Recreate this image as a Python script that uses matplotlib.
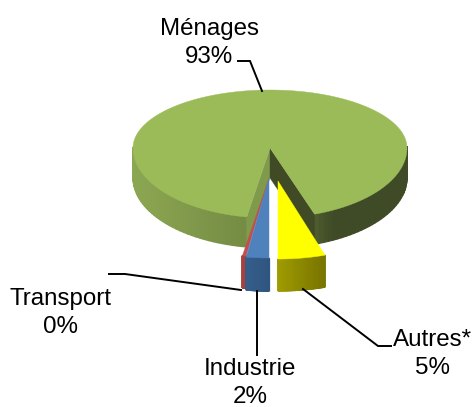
import numpy as np
import matplotlib
matplotlib.use("Agg")
import matplotlib.pyplot as plt
from matplotlib.patches import Polygon

plt.rcParams["font.family"] = ["Liberation Sans", "DejaVu Sans"]

# values (labels are rounded)
categories = ["Ménages", "Autres*", "Industrie", "Transport"]
shares = [92.2, 5.0, 2.4, 0.4]
labels = ["93%", "5%", "2%", "0%"]

# slice widths in radians
DEG = np.array(shares) / sum(shares) * 2 * np.pi
a_autres = DEG[1]
a_indus = DEG[2]
a_trans = DEG[3]

fig = plt.figure(figsize=(4.72, 4.07), dpi=100)
ax = fig.add_axes([0, 0, 1, 1])
ax.set_xlim(0, 472)
ax.set_ylim(407, 0)
ax.axis("off")


def pt(c, t, rx, ry_front, ry_back):
    # t = 0 is the front of the pie, positive t goes right
    s, k = np.sin(t), np.cos(t)
    ry = np.where(k >= 0, ry_front, ry_back)
    return c[0] + rx * s, c[1] + ry * k


def mix(c1, c2, f):
    return tuple(np.array(matplotlib.colors.to_rgb(c1)) * (1 - f) + np.array(matplotlib.colors.to_rgb(c2)) * f)


def wall(c, t0, t1, rx, ryf, ryb, depth, colfn, z):
    # outer wall drawn as thin quads so it can shade across
    ts = np.linspace(t0, t1, 160)
    x, y = pt(c, ts, rx, ryf, ryb)
    for i in range(len(ts) - 1):
        if np.cos((ts[i] + ts[i + 1]) / 2) < -0.02:
            continue
        q = [(x[i], y[i]), (x[i + 1], y[i + 1]), (x[i + 1], y[i + 1] + depth), (x[i], y[i] + depth)]
        col = colfn((x[i] - c[0]) / rx)
        ax.add_patch(Polygon(q, closed=True, fc=col, ec=col, lw=0.9, zorder=z))


def top(c, t0, t1, rx, ryf, ryb, col, z):
    ts = np.linspace(t0, t1, 240)
    x, y = pt(c, ts, rx, ryf, ryb)
    ax.add_patch(Polygon([c] + list(zip(x, y)), closed=True, fc=col, ec=col, lw=0.3, zorder=z))


# big slice
c0 = (270, 148)
rx0, ryf0, ryb0, d0 = 137, 70, 58, 30
t_right = a_autres + np.radians(1)
t_left = 2 * np.pi - a_indus - a_trans + np.radians(0.3)


def green_wall(u):
    if u < 0:
        return mix("#6f8540", "#8ca752", min(-u, 1))
    return mix("#6f8540", "#3f4a26", min(u * 2.2, 1))


wall(c0, t_right, t_left, rx0, ryf0, ryb0, d0, green_wall, 1)
xl, yl = pt(c0, t_left, rx0, ryf0, ryb0)
xr, yr = pt(c0, t_right, rx0, ryf0, ryb0)
ax.add_patch(Polygon([c0, (xl, yl), (xl, yl + d0), (c0[0], c0[1] + d0)], closed=True, fc="#7f9a4a", ec="#7f9a4a", lw=0.3, zorder=2))
ax.add_patch(Polygon([c0, (xr, yr), (xr, yr + d0), (c0[0], c0[1] + d0)], closed=True, fc="#404b25", ec="#404b25", lw=0.3, zorder=2))
top(c0, t_right, t_left, rx0, ryf0, ryb0, "#9bbb59", 3)

# exploded slices
c_y = (278, 181)
wall(c_y, 0, a_autres, 152, 78, 78, 32, lambda u: mix("#a09c00", "#787400", min(u * 3.2, 1)), 4)
top(c_y, 0, a_autres, 152, 78, 78, "#ffff00", 5)

c_r = (269, 178)
wall(c_r, -a_indus - a_trans, -a_indus, 152, 79, 79, 32, lambda u: "#a8403e", 4)
top(c_r, -a_indus - a_trans, -a_indus, 152, 79, 79, "#c0504d", 5)

c_b = (269, 178)
wall(c_b, -a_indus, 0, 152, 80, 80, 33, lambda u: mix("#2f5680", "#375f8c", min(-u * 6, 1)), 6)
top(c_b, -a_indus, 0, 152, 80, 80, "#4f81bd", 7)

# leader lines
ax.plot([238, 250, 262], [61, 61, 91], color="black", lw=1.4, zorder=8, solid_joinstyle="miter")
ax.plot([303, 378, 391], [289, 346, 346], color="black", lw=1.4, zorder=8, solid_joinstyle="miter")
ax.plot([257, 257], [291, 355], color="black", lw=1.4, zorder=8)
ax.plot([109, 125, 241], [274, 274, 290], color="black", lw=1.4, zorder=8, solid_joinstyle="miter")

# text
fs = 17.4
pos = {"Ménages": (209, 43), "Autres*": (433, 354), "Industrie": (250, 383), "Transport": (60, 313)}
for name, lab in zip(categories, labels):
    x, y = pos[name]
    ax.text(x, y, name + "\n" + lab, ha="center", va="center", fontsize=fs, color="black", linespacing=1.36, zorder=9)

plt.savefig("out.png", dpi=100)
